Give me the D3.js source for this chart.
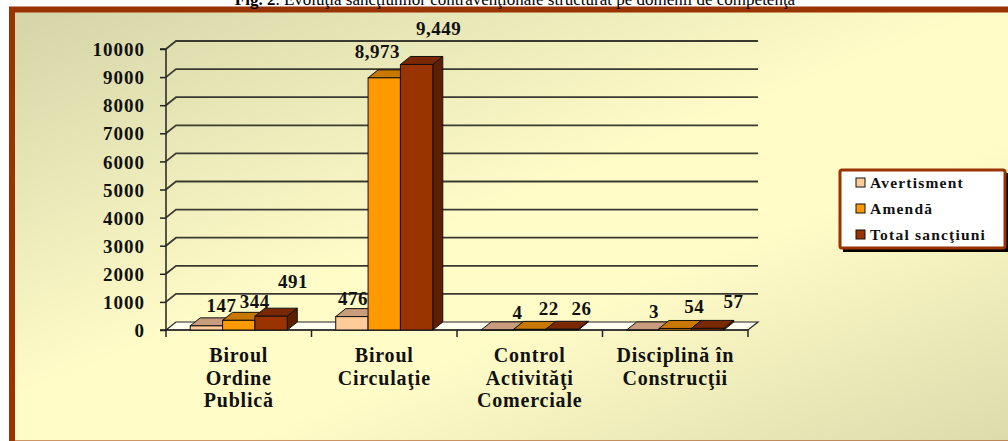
<!DOCTYPE html>
<html>
<head>
<meta charset="utf-8">
<script src="https://cdn.jsdelivr.net/npm/d3@7"></script>
<style>
  body { margin: 0; background: #fff; }
  svg { display: block; }
  text { font-family: "Liberation Serif", "Times New Roman", serif; }
</style>
</head>
<body>
<svg id="chart" width="1008" height="441"></svg>
<script>
// chart data
var categories = ["Biroul\nOrdine\nPublică", "Biroul\nCirculaţie", "Control\nActivităţi\nComerciale", "Disciplină în\nConstrucţii"]
var seriesNames = ["Avertisment", "Amendă", "Total sancţiuni"]
var avertisment = [147, 476, 4, 3]
var amenda = [344, 8973, 22, 54]
var totalSanctiuni = [491, 9449, 26, 57]
var yTickValues = [0, 1000, 2000, 3000, 4000, 5000, 6000, 7000, 8000, 9000, 10000]

// styling / layout
var seriesColors = [
    {front: "#ffcc99", top: "#c89c7c", side: "#a07a5c"},
    {front: "#ff9900", top: "#c87800", side: "#995c00"},
    {front: "#993300", top: "#7a2800", side: "#5e1f00"}
]
// Excel places 3d labels a bit off the bar, nudge them the same way
var labelNudge = [
    [[15, -14], [1, -12], [20, -11], [11, -12]],
    [[16, -12], [-7, -20], [19, -14], [19, -15.5]],
    [[22, -28], [22, -29.5], [19.5, -14], [26, -20]]
]
var depthX = 10, depthY = -8

var svg = d3.select("#chart")
var values = [avertisment, amenda, totalSanctiuni]

// background
var defs = svg.append("defs")
var grad = defs.append("linearGradient").attr("id", "bg")
    .attr("x1", "0%").attr("y1", "0%").attr("x2", "100%").attr("y2", "100%")
grad.append("stop").attr("offset", "0%").attr("stop-color", "#d4d4a8")
grad.append("stop").attr("offset", "45%").attr("stop-color", "#fffcc8")
grad.append("stop").attr("offset", "60%").attr("stop-color", "#fffcc8")
grad.append("stop").attr("offset", "100%").attr("stop-color", "#d8d6a8")

svg.append("rect").attr("x", 12).attr("y", 9.5).attr("width", 1100).attr("height", 434)
    .attr("fill", "url(#bg)").attr("stroke", "#993300").attr("stroke-width", 6)

// title (mostly cut off at the top)
var title = svg.append("text").attr("x", 515).attr("y", 4.5).attr("text-anchor", "middle")
    .attr("font-size", 17).attr("fill", "#000")
title.append("tspan").attr("font-weight", "bold").text("Fig. 2")
title.append("tspan").text(". Evoluţia sancţiunilor contravenţionale structurat pe domenii de competenţă")

// scales
var x = d3.scaleBand().domain(categories).range([166, 748]).padding(0)
var inner = d3.scaleBand().domain(seriesNames)
    .range([x.bandwidth() * 0.1665, x.bandwidth() * 0.8335]).padding(0)
var y = d3.scaleLinear().domain([0, 10000]).range([330, 49])

var x0 = x.range()[0], x1 = x.range()[1]

// back wall gridlines + side wall diagonals
var grid = svg.append("g")
yTickValues.forEach(function(t) {
    if (t === 0) return
    grid.append("path")
        .attr("d", "M" + x0 + "," + y(t) + "L" + (x0 + depthX) + "," + (y(t) + depthY) + "L" + (x1 + depthX) + "," + (y(t) + depthY))
        .attr("fill", "none").attr("stroke", "#3a3a30").attr("stroke-width", 1.8)
})

// floor
svg.append("path")
    .attr("d", "M" + x0 + "," + y(0) + "L" + (x0 + depthX) + "," + (y(0) + depthY) + "L" + (x1 + depthX) + "," + (y(0) + depthY) + "L" + x1 + "," + y(0) + "Z")
    .attr("fill", "#fffff2").attr("stroke", "#222").attr("stroke-width", 1.2)

// y axis
var yAxis = d3.axisLeft(y).tickValues(yTickValues).tickSize(6).tickPadding(15).tickFormat(d3.format("d"))
var yg = svg.append("g").attr("transform", "translate(" + x0 + ",0)").call(yAxis)
yg.select(".domain").attr("stroke", "#222").attr("stroke-width", 1.5).attr("d", "M-6," + y(10000) + "H0V" + y(0) + "H-6")
yg.selectAll(".tick line").attr("stroke", "#222").attr("stroke-width", 1.5)
yg.selectAll(".tick text").attr("font-family", "Liberation Serif, serif").attr("font-size", 19)
    .attr("font-weight", "bold").attr("letter-spacing", 1).attr("fill", "#111").attr("dy", "0.35em")

// x axis (ticks at category borders)
var xg = svg.append("g")
xg.append("line").attr("x1", x0).attr("x2", x1).attr("y1", y(0)).attr("y2", y(0))
    .attr("stroke", "#222").attr("stroke-width", 1.5)
categories.concat([null]).forEach(function(c, i) {
    var xx = c === null ? x1 : x(c)
    xg.append("line").attr("x1", xx).attr("x2", xx).attr("y1", y(0)).attr("y2", y(0) + 7)
        .attr("stroke", "#222").attr("stroke-width", 1.5)
})

// category labels
categories.forEach(function(c) {
    var lines = c.split("\n")
    var t = svg.append("text").attr("x", x(c) + x.bandwidth() / 2).attr("y", 362)
        .attr("text-anchor", "middle").attr("font-size", 20).attr("font-weight", "bold")
        .attr("letter-spacing", 0.8).attr("fill", "#111")
    lines.forEach(function(l, i) {
        t.append("tspan").attr("x", x(c) + x.bandwidth() / 2).attr("dy", i === 0 ? 0 : 22.5).text(l)
    })
})

// 3d bars, left to right so the next front face covers the previous side
var bars = svg.append("g")
categories.forEach(function(c, ci) {
    seriesNames.forEach(function(s, si) {
        var v = values[si][ci]
        var bx = x(c) + inner(s), bw = inner.bandwidth()
        var by = y(v), b0 = y(0)
        var col = seriesColors[si]
        // side
        bars.append("path")
            .attr("d", "M" + (bx + bw) + "," + b0 + "L" + (bx + bw + depthX) + "," + (b0 + depthY) + "L" + (bx + bw + depthX) + "," + (by + depthY) + "L" + (bx + bw) + "," + by + "Z")
            .attr("fill", col.side).attr("stroke", "#111").attr("stroke-width", 1).attr("stroke-linejoin", "round")
        // top
        bars.append("path")
            .attr("d", "M" + bx + "," + by + "L" + (bx + depthX) + "," + (by + depthY) + "L" + (bx + bw + depthX) + "," + (by + depthY) + "L" + (bx + bw) + "," + by + "Z")
            .attr("fill", col.top).attr("stroke", "#111").attr("stroke-width", 1).attr("stroke-linejoin", "round")
        // front
        bars.append("rect").attr("x", bx).attr("y", by).attr("width", bw).attr("height", Math.max(0, b0 - by))
            .attr("fill", col.front).attr("stroke", "#111").attr("stroke-width", 1)
    })
})

// data labels
var fmt = d3.format(",")
var labels = svg.append("g")
seriesNames.forEach(function(s, si) {
    categories.forEach(function(c, ci) {
        var v = values[si][ci]
        var nx = labelNudge[si][ci]
        labels.append("text")
            .attr("x", x(c) + inner(s) + inner.bandwidth() / 2 + nx[0])
            .attr("y", y(v) + nx[1])
            .attr("text-anchor", "middle").attr("font-size", 19).attr("font-weight", "bold")
            .attr("letter-spacing", 0.5).attr("fill", "#111")
            .text(v >= 1000 ? fmt(v) : v)
    })
})

// legend
var legend = svg.append("g")
legend.append("rect").attr("x", 843).attr("y", 173).attr("width", 166).attr("height", 79).attr("fill", "#000")
legend.append("rect").attr("x", 840).attr("y", 170).attr("width", 165).attr("height", 78).attr("rx", 2)
    .attr("fill", "#fff").attr("stroke", "#993300").attr("stroke-width", 3)
seriesNames.forEach(function(s, i) {
    var ly = 183 + i * 26
    legend.append("rect").attr("x", 856).attr("y", ly - 5).attr("width", 9).attr("height", 9)
        .attr("fill", seriesColors[i].front).attr("stroke", "#111").attr("stroke-width", 1)
    legend.append("text").attr("x", 870).attr("y", ly + 5).attr("font-size", 15.5).attr("font-weight", "bold")
        .attr("letter-spacing", 1.2).attr("fill", "#111").text(s)
})
</script>
</body>
</html>
